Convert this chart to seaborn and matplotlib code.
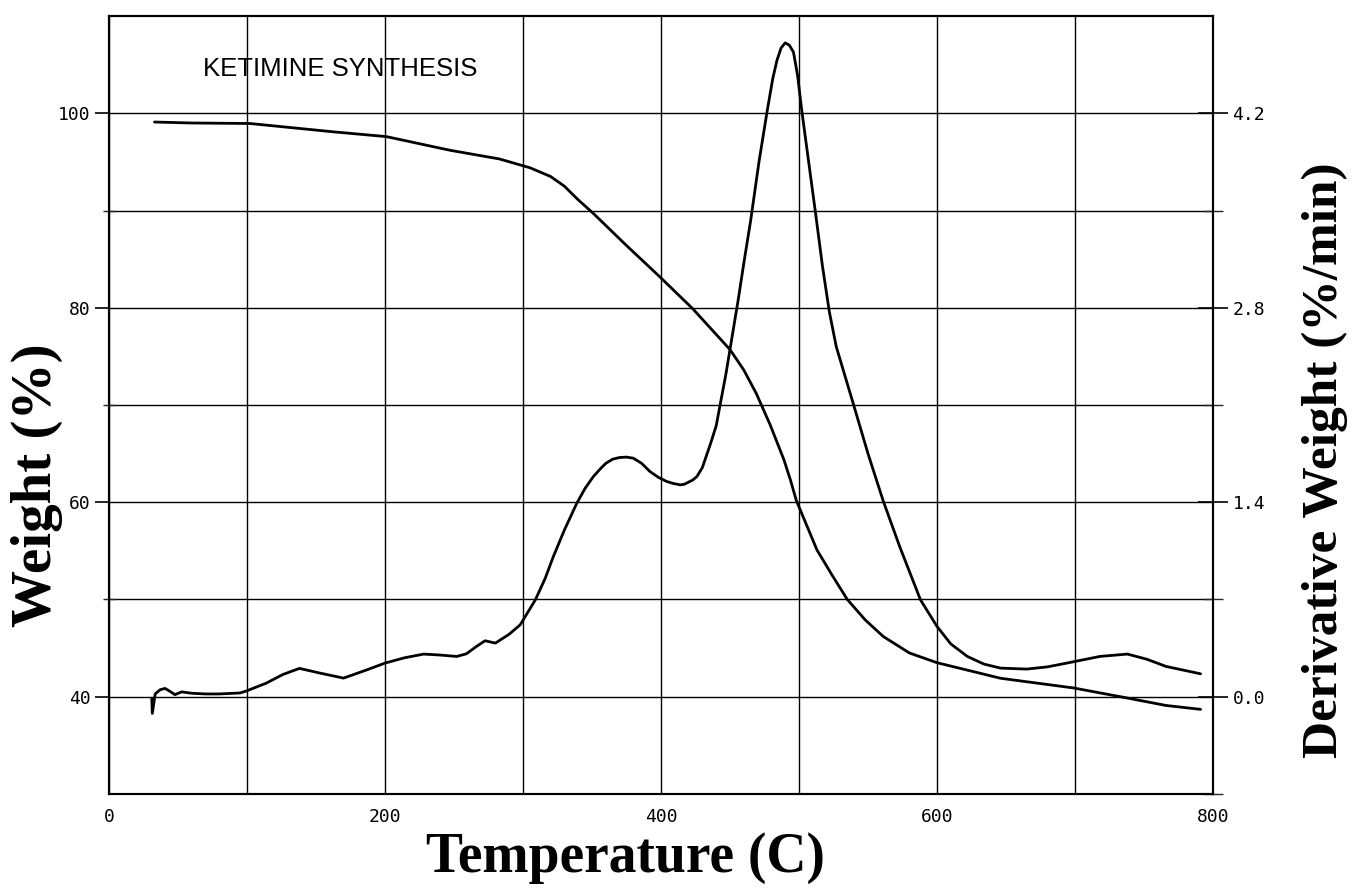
import numpy as np
import pandas as pd
import seaborn as sns
import matplotlib.pyplot as plt
from matplotlib.ticker import FixedLocator, MultipleLocator, FuncFormatter

# Courbe TGA : poids (%) en fonction de la température (C)
temp_poids = [33, 60, 102, 162, 201, 247, 283, 305, 320, 330, 340, 351, 375, 399, 423, 450,
              460, 469, 479, 489, 494, 498, 513, 524, 535, 548, 561, 580, 600, 646, 699,
              733, 766, 791]
poids = [99.1, 99.0, 98.95, 98.1, 97.6, 96.2, 95.3, 94.4, 93.5, 92.5, 91.1, 89.7, 86.4, 83.2,
         79.9, 75.7, 73.6, 71.2, 68.0, 64.4, 62.2, 60.2, 55.1, 52.5, 50.0, 47.9, 46.2, 44.5,
         43.5, 41.9, 40.9, 40.0, 39.1, 38.7]

# Courbe DTG : dérivée du poids (%/min)
temp_deriv = [31.0, 31.4, 33.5, 37.0, 40.6, 44.0, 47.8, 52.7, 60, 70, 80, 95, 100, 114,
              126, 138, 153, 170, 187, 200, 214, 228, 240, 252, 259, 266, 272.5, 280,
              290, 298, 309, 316, 322, 330, 339, 345, 351, 356, 360, 365, 370, 375, 380,
              386, 392, 398, 404, 409, 414, 417, 420, 423, 426, 430, 436, 440, 443, 447,
              450, 453, 456, 460, 465, 471, 477, 481, 484, 487, 490, 493, 496, 499, 502,
              507, 512, 517, 522, 527, 539, 550, 561, 573, 588, 600, 610, 622, 634, 646,
              665, 680, 694, 718, 738, 752, 766, 791]
deriv = [-0.01, -0.12, 0.02, 0.05, 0.06, 0.04, 0.015, 0.035, 0.025, 0.02, 0.02, 0.027, 0.043, 0.098,
         0.16, 0.204, 0.17, 0.134, 0.194, 0.242, 0.28, 0.307, 0.30, 0.29, 0.309, 0.36, 0.403, 0.386,
         0.45, 0.518, 0.698, 0.85, 1.009, 1.2, 1.393, 1.5, 1.585, 1.64, 1.68, 1.71, 1.722, 1.725, 1.717,
         1.68, 1.621, 1.58, 1.55, 1.535, 1.525, 1.53, 1.545, 1.56, 1.585, 1.65, 1.825, 1.95, 2.11, 2.32,
         2.5, 2.68, 2.86, 3.12, 3.43, 3.85, 4.22, 4.45, 4.58, 4.67, 4.707, 4.69, 4.64, 4.47, 4.22,
         3.85, 3.48, 3.1, 2.77, 2.52, 2.12, 1.75, 1.41, 1.08, 0.698, 0.506, 0.38, 0.29, 0.235, 0.206,
         0.199, 0.215, 0.242, 0.29, 0.307, 0.27, 0.218, 0.165]

x_labels = [0, 200, 400, 600, 800]
y_left_labels = [40, 60, 80, 100]
y_right_labels = [0.0, 1.4, 2.8, 4.2]

df_poids = pd.DataFrame({"temp": temp_poids, "poids": poids})
df_deriv = pd.DataFrame({"temp": temp_deriv, "deriv": deriv})

sns.set_style("white")
plt.rcParams["font.family"] = ["DejaVu Sans"]
plt.rcParams["text.color"] = "black"
plt.rcParams["axes.labelcolor"] = "black"

fig = plt.figure(figsize=(13.52, 8.91), dpi=100)
ax = fig.add_axes([0.0806, 0.1089, 0.8166, 0.8731])
ax2 = ax.twinx()

sns.lineplot(data=df_poids, x="temp", y="poids", ax=ax, color="black", linewidth=2.0, sort=False)
sns.lineplot(data=df_deriv, x="temp", y="deriv", ax=ax2, color="black", linewidth=2.0, sort=False)

ax.set_xlim(0, 800)
ax.set_ylim(30, 110)
ax2.set_ylim(-0.7, 4.9)

# axe x : tick tous les 100, étiquette tous les 200
ax.xaxis.set_major_locator(MultipleLocator(100))
ax.xaxis.set_major_formatter(FuncFormatter(lambda v, p: f"{int(v)}" if int(round(v)) in x_labels else ""))
ax.yaxis.set_major_locator(FixedLocator(y_left_labels))
ax.yaxis.set_minor_locator(FixedLocator([50, 70, 90]))
ax2.yaxis.set_major_locator(FixedLocator(y_right_labels))
ax2.yaxis.set_major_formatter(FuncFormatter(lambda v, p: f"{v:.1f}"))
ax2.yaxis.set_minor_locator(FixedLocator([-0.7, 0.7, 2.1, 3.5]))

ax.grid(True, axis="x", which="major", color="black", linewidth=1.0)
ax.grid(True, axis="y", which="both", color="black", linewidth=1.0)
ax2.grid(False)

ax.tick_params(axis="x", which="major", direction="inout", length=16, width=1.2,
               labelsize=13, pad=2, colors="black")
ax.tick_params(axis="y", which="major", direction="out", length=10, width=1.2,
               labelsize=13, pad=3, colors="black", left=True)
ax.tick_params(axis="y", which="minor", direction="inout", length=8, width=1.0, left=True)
ax2.tick_params(axis="y", which="major", direction="inout", length=22, width=1.2,
                labelsize=13, pad=3, colors="black", right=True)
ax2.tick_params(axis="y", which="minor", direction="inout", length=14, width=1.0, right=True)
for lab in ax.get_xticklabels() + ax.get_yticklabels() + ax2.get_yticklabels():
    lab.set_family(["DejaVu Sans Mono"])

for a in (ax, ax2):
    for s in a.spines.values():
        s.set_color("black")
        s.set_linewidth(1.5)

ax.text(68, 104.6, "KETIMINE SYNTHESIS", fontsize=18.5, family=["Liberation Sans"],
        va="center", ha="left", color="black")

serif = ["Liberation Serif", "DejaVu Serif"]
ax.set_xlabel("Temperature (C)", fontsize=40, fontweight="bold", family=serif, va="center")
ax.xaxis.set_label_coords(0.468, -0.082)
ax.set_ylabel("Weight (%)", fontsize=41, fontweight="bold", family=serif, va="center")
ax.yaxis.set_label_coords(-0.065, 0.397)
ax2.set_ylabel("Derivative Weight (%/min)", fontsize=37, fontweight="bold", family=serif,
               va="center", rotation=90)
ax2.yaxis.set_label_coords(1.101, 0.429)

fig.savefig("out.png", dpi=100)
